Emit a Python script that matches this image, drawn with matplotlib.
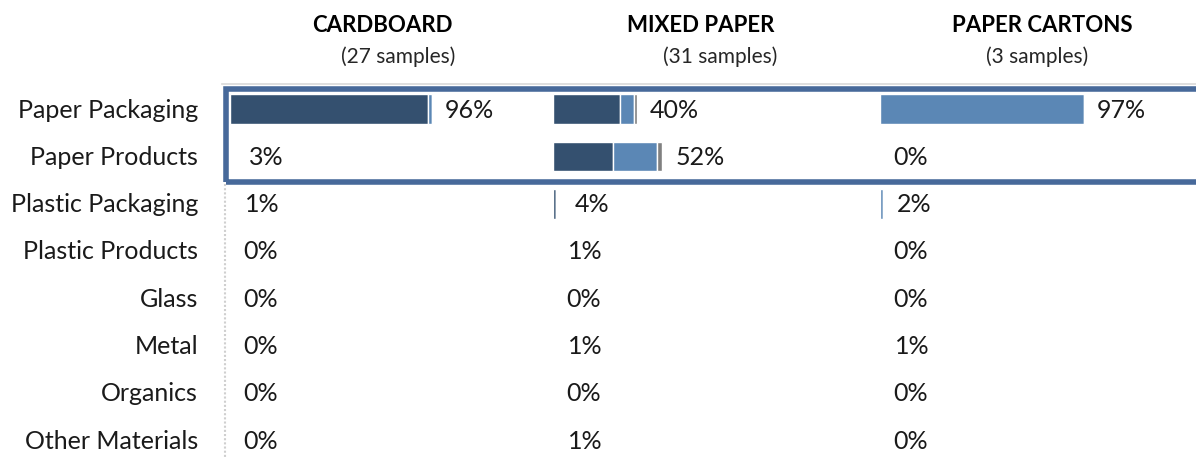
import matplotlib
matplotlib.use("Agg")
import matplotlib.pyplot as plt
from matplotlib.patches import Rectangle
from matplotlib.lines import Line2D
from matplotlib.transforms import blended_transform_factory

plt.rcParams['font.family'] = ['Lato', 'DejaVu Sans']

materials = ["Paper Packaging", "Paper Products", "Plastic Packaging", "Plastic Products",
             "Glass", "Metal", "Organics", "Other Materials"]
streams = ["CARDBOARD", "MIXED PAPER", "PAPER CARTONS"]
samples = [27, 31, 3]

# row totals shown as labels (%)
cardboard_total = [96, 3, 1, 0, 0, 0, 0, 0]
mixed_total = [40, 52, 4, 1, 0, 1, 0, 1]
cartons_total = [97, 0, 2, 0, 0, 1, 0, 0]

# coloured sub-segments of each total (%)
cardboard_dark = [94.5, 0, 0, 0, 0, 0, 0, 0]
cardboard_light = [1.5, 0, 0, 0, 0, 0, 0, 0]
cardboard_gray = [0, 0, 0, 0, 0, 0, 0, 0]
mixed_dark = [32, 28.5, 1.5, 0, 0, 0, 0, 0]
mixed_light = [6.5, 21, 0, 0, 0, 0, 0, 0]
mixed_gray = [1.5, 2.5, 0, 0, 0, 0, 0, 0]
cartons_dark = [0, 0, 0, 0, 0, 0, 0, 0]
cartons_light = [97, 0, 1.5, 0, 0, 0, 0, 0]
cartons_gray = [0, 0, 0, 0, 0, 0, 0, 0]

totals = [cardboard_total, mixed_total, cartons_total]
segs = [(cardboard_dark, cardboard_light, cardboard_gray),
        (mixed_dark, mixed_light, mixed_gray),
        (cartons_dark, cartons_light, cartons_gray)]

dark = "#34506f"
light = "#5b87b5"
gray = "#808080"
border = "#47699a"

W, H = 1196, 460
fig = plt.figure(figsize=(W / 100, H / 100), dpi=100)

lefts = [230, 553, 880]
head_x = [382, 701, 1042]
sub_x = [398, 720, 1037]
n = len(materials)
rows = list(range(n))

for k in range(3):
    ax = fig.add_axes([lefts[k] / W, 0, 316 / W, (H - 86.5) / H])
    ax.set_xlim(0, 316 / 2.1)
    ax.set_ylim(n - 0.6, -0.5)
    ax.axis("off")
    d, l, g = segs[k]
    ax.barh(rows, d, height=0.63, color=dark, edgecolor="white", linewidth=1)
    ax.barh(rows, l, left=d, height=0.63, color=light, edgecolor="white", linewidth=1)
    left3 = [a + b for a, b in zip(d, l)]
    ax.barh(rows, g, left=left3, height=0.63, color=gray, edgecolor="white", linewidth=1)
    for i in rows:
        ax.annotate(f"{totals[k][i]}%", (totals[k][i], i), xytext=(13, 0),
                    textcoords="offset pixels", ha="left", va="center",
                    fontsize=18, color="#1a1a1a")
    fig.text(head_x[k] / W, 1 - 25 / H, streams[k], ha="center", va="center",
             fontsize=16, fontweight="bold", color="black")
    fig.text(sub_x[k] / W, 1 - 57 / H, f"({samples[k]} samples)", ha="center",
             va="center", fontsize=15, color="#262626")
    if k == 0:
        tr = blended_transform_factory(fig.transFigure, ax.transData)
        for i in rows:
            ax.text(198 / W, i, materials[i], transform=tr, ha="right", va="center",
                    fontsize=18, color="#1a1a1a")

# frame around the paper rows
fig.patches.append(Rectangle((226 / W, 1 - 182.5 / H), 1000 / W, 93 / H,
                             transform=fig.transFigure, fill=False, ec=border,
                             lw=4, clip_on=False))
fig.lines.append(Line2D([222 / W, 1], [1 - 84.5 / H] * 2, transform=fig.transFigure,
                        color="#d9d9d9", lw=1.2))
fig.lines.append(Line2D([225 / W] * 2, [1 - 185 / H, 0], transform=fig.transFigure,
                        color="#cfcfcf", lw=1.5, linestyle=(0, (1, 1))))

fig.savefig("out.png", dpi=100)
